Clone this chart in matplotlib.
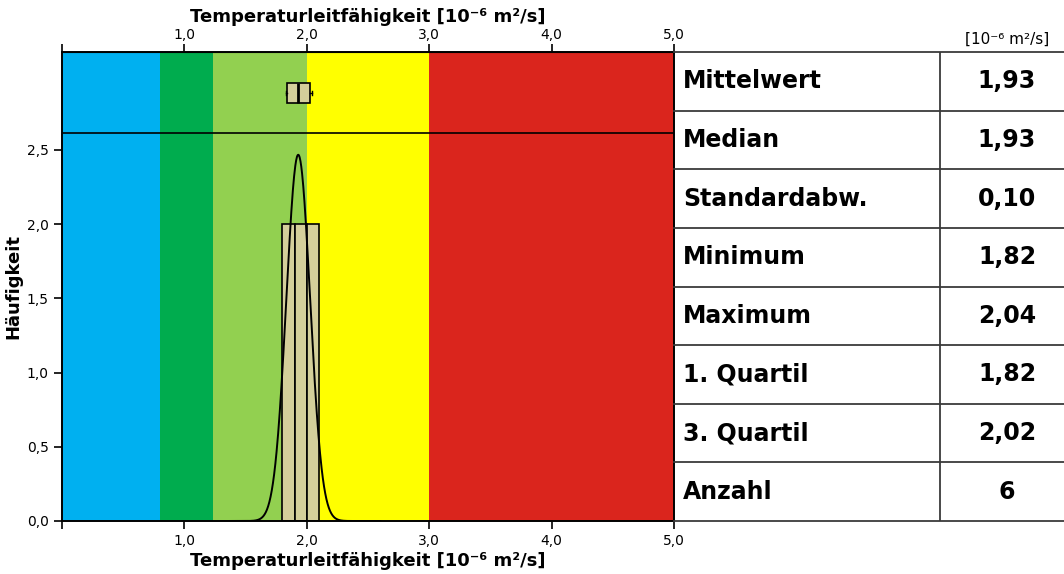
import numpy as np
import matplotlib
matplotlib.use("Agg")
import matplotlib.pyplot as plt
from matplotlib.ticker import FuncFormatter

# Klassen (Farbbänder) der Temperaturleitfähigkeit
band_edges = [0.0, 0.8, 1.23, 2.0, 3.0, 5.0]
band_colors = ["#00B0F0", "#00AC4E", "#92D050", "#FFFF00", "#DA251D"]

# Histogramm
bin_left = [1.8, 1.9, 2.0]
counts = [2, 2, 2]
bin_width = 0.1

curve_mean = 1.93
curve_sd = 0.097

box_q1 = 1.84
box_med = 1.93
box_q3 = 2.03
box_min = 1.83
box_max = 2.04

# Statistik-Tabelle
stat_names = ["Mittelwert", "Median", "Standardabw.", "Minimum", "Maximum",
              "1. Quartil", "3. Quartil", "Anzahl"]
stat_values = ["1,93", "1,93", "0,10", "1,82", "2,04", "1,82", "2,02", "6"]

xticks = [0, 1, 2, 3, 4, 5]
yticks = [0, 0.5, 1.0, 1.5, 2.0, 2.5]
xlabel = "Temperaturleitfähigkeit [10⁻⁶ m²/s]"
bar_color = "#D4CF9B"

def komma(v, pos):
    return f"{v:.1f}".replace(".", ",")

def komma_x(v, pos):
    if abs(v) < 1e-9:
        return ""
    return f"{v:.1f}".replace(".", ",")

fig = plt.figure(figsize=(10.64, 5.74), dpi=100)
ax = fig.add_axes([62/1064, 53/574, 612/1064, 469/574])

for i in range(len(band_colors)):
    ax.axvspan(band_edges[i], band_edges[i+1], color=band_colors[i], zorder=0, lw=0)

ax.bar(bin_left, counts, width=bin_width, align="edge", color=bar_color,
       edgecolor="black", linewidth=1.2, zorder=2)

xs = np.linspace(1.3, 2.6, 400)
ys = sum(counts) * bin_width * np.exp(-0.5*((xs-curve_mean)/curve_sd)**2) / (curve_sd*np.sqrt(2*np.pi))
ax.plot(xs, ys, color="black", lw=1.4, zorder=3)

ax.axhline(2.615, color="black", lw=1.2, zorder=3)

stats = [dict(med=box_med, q1=box_q1, q3=box_q3, whislo=box_min, whishi=box_max, fliers=[])]
ax.bxp(stats, positions=[2.885], widths=0.135, orientation="horizontal", patch_artist=True,
       boxprops=dict(facecolor=bar_color, edgecolor="black", linewidth=1.2),
       medianprops=dict(color="black", linewidth=2),
       whiskerprops=dict(color="black", linewidth=1),
       capprops=dict(color="black", linewidth=1), capwidths=0.03,
       manage_ticks=False, zorder=4)

ax.set_xlim(0, 5)
ax.set_ylim(0, 3.16)
ax.set_xticks(xticks)
ax.set_yticks(yticks)
ax.xaxis.set_major_formatter(FuncFormatter(komma_x))
ax.yaxis.set_major_formatter(FuncFormatter(komma))
ax.tick_params(direction="out", length=6, width=1.2, labelsize=10)
ax.set_xlabel(xlabel, fontsize=13, fontweight="bold", labelpad=3)
ax.set_ylabel("Häufigkeit", fontsize=13, fontweight="bold", labelpad=3)
for s in ax.spines.values():
    s.set_linewidth(1.4)

sec = ax.secondary_xaxis("top")
sec.set_xticks(xticks)
sec.xaxis.set_major_formatter(FuncFormatter(komma_x))
sec.tick_params(direction="out", length=6, width=1.2, labelsize=10, pad=1.5)
sec.set_xlabel(xlabel, fontsize=13, fontweight="bold", labelpad=4)

# Tabelle rechts
tab = fig.add_axes([674/1064, 53/574, 390/1064, 469/574])
tab.set_xlim(0, 390)
tab.set_ylim(len(stat_names), 0)
tab.axis("off")
for i in range(len(stat_names) + 1):
    tab.plot([0, 390], [i, i], color="#3a3a3a", lw=1.3, clip_on=False)
tab.plot([266, 266], [0, len(stat_names)], color="#3a3a3a", lw=1.3)
for i, (n, v) in enumerate(zip(stat_names, stat_values)):
    tab.text(9, i + 0.5, n, fontsize=17, fontweight="bold", va="center", ha="left")
    tab.text(333, i + 0.5, v, fontsize=17, fontweight="bold", va="center", ha="center")
tab.text(333, -0.22, "[10⁻⁶ m²/s]", fontsize=11, ha="center", va="center")

fig.savefig("out.png", dpi=100)
